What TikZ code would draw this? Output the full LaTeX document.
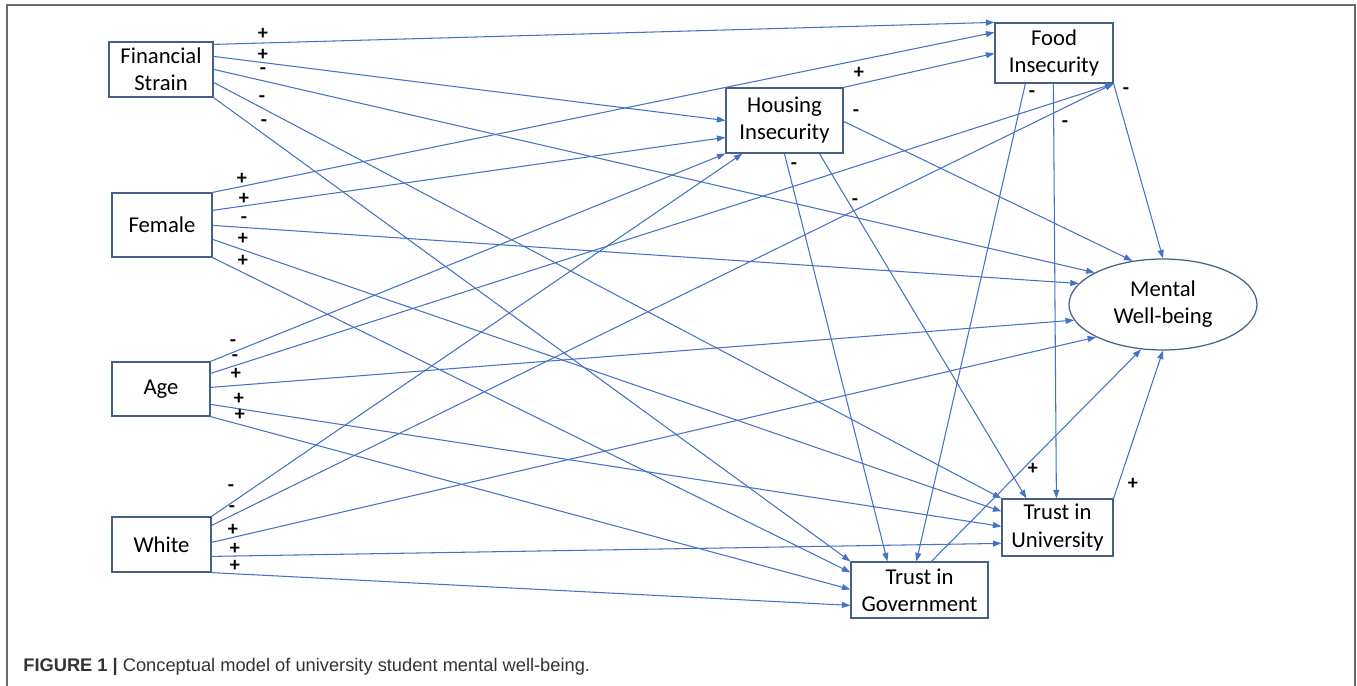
\documentclass[tikz,border=0pt]{standalone}
\usepackage{fontspec}
\setmainfont{Carlito}
\newfontfamily\capfont{Liberation Sans}
\usetikzlibrary{arrows.meta, calc, shapes.geometric}
\definecolor{linkblue}{RGB}{68,114,196}
\definecolor{boxblue}{RGB}{70,95,135}
\definecolor{framegray}{RGB}{105,105,105}
\tikzset{>={Triangle[length=0.17cm,width=0.12cm]}}
\tikzset{
    var/.style={draw=boxblue, line width=0.7pt, align=center, inner sep=0pt,
        font=\fontsize{12.9}{15.4}\selectfont},
    arr/.style={->, draw=linkblue, line width=0.6pt},
    sign/.style={font=\fontsize{11.5}{11.5}\selectfont\bfseries, inner sep=0pt}
}

\begin{document}
\begin{tikzpicture}[x=0.02cm, y=-0.02cm]
    \useasboundingbox (0,0) rectangle (1357,686);
    \draw[framegray, line width=0.85pt] (7,686) -- (7,5) -- (1355,5) -- (1355,686);
    % variables
    \node[var, minimum width=2.08cm, minimum height=1.1cm] (FS) at (161,69.5) {Financial\\Strain};
    \node[var, minimum width=2.0cm, minimum height=1.28cm] (Fem) at (162,225) {Female};
    \node[var, minimum width=1.96cm, minimum height=1.08cm] (Age) at (161,389) {Age};
    \node[var, minimum width=1.98cm, minimum height=1.1cm] (White) at (161.5,544.5) {White};
    \node[var, minimum width=2.34cm, minimum height=1.3cm] (HI) at (784.5,120.5) {Housing\\Insecurity};
    \node[var, minimum width=2.36cm, minimum height=1.2cm] (Food) at (1054,53) {Food\\Insecurity};
    \node[var, ellipse, minimum width=3.76cm, minimum height=1.82cm] (MWB) at (1163,304.5) {Mental\\Well-being};
    \node[var, minimum width=2.22cm, minimum height=1.14cm] (TU) at (1057.5,527.5) {Trust in\\University};
    \node[var, minimum width=2.74cm, minimum height=1.12cm] (TG) at (919.5,590) {Trust in\\Government};
    % financial strain
    \draw[arr] ($(FS.north east)+(0,3)$) -- (Food.north west);
    \draw[arr] ($(FS.north east)+(0,15)$) -- (HI.west);
    \draw[arr] ($(FS.north east)+(0,28)$) -- (MWB.155);
    \draw[arr] ($(FS.north east)+(0,41)$) -- (TU.north west);
    \draw[arr] (FS.south east) -- (TG.north west);
    % female
    \draw[arr] (Fem.north east) -- ($(Food.north west)+(0,10)$);
    \draw[arr] ($(Fem.north east)+(0,18)$) -- ($(HI.north west)+(0,50)$);
    \draw[arr] ($(Fem.north east)+(0,33)$) -- (MWB.166);
    \draw[arr] ($(Fem.north east)+(0,47)$) -- ($(TU.north west)+(0,13)$);
    \draw[arr] (Fem.south east) -- ($(TG.north west)+(0,11)$);
    % age
    \draw[arr] (Age.north east) -- (HI.south west);
    \draw[arr] ($(Age.north east)+(0,12)$) -- (Food.south east);
    \draw[arr] ($(Age.north east)+(0,26)$) -- (MWB.190);
    \draw[arr] ($(Age.north east)+(0,43)$) -- ($(TU.north west)+(0,28)$);
    \draw[arr] (Age.south east) -- ($(TG.north west)+(0,28)$);
    % white
    \draw[arr] (White.north east) -- ($(HI.south west)+(17,0)$);
    \draw[arr] ($(White.north east)+(0,9)$) -- (Food.south east);
    \draw[arr] ($(White.north east)+(0,26)$) -- (MWB.206);
    \draw[arr] ($(White.north east)+(0,40)$) -- ($(TU.north west)+(0,45)$);
    \draw[arr] (White.south east) -- ($(TG.north west)+(0,44)$);
    % mediators
    \draw[arr] (HI.north east) -- ($(Food.north west)+(0,31)$);
    \draw[arr] ($(HI.north east)+(0,34)$) -- (MWB.125);
    \draw[arr] ($(HI.south west)+(59,0)$) -- ($(TG.north west)+(37,0)$);
    \draw[arr] ($(HI.south west)+(94,0)$) -- ($(TU.north west)+(25,0)$);
    \draw[arr] ($(Food.south west)+(31,0)$) -- ($(TG.north west)+(66,0)$);
    \draw[arr] ($(Food.south west)+(59,0)$) -- ($(TU.north west)+(55,0)$);
    \draw[arr] (Food.south east) -- (MWB.north);
    \draw[arr] ($(TG.north west)+(81,0)$) -- (MWB.244);
    \draw[arr] (TU.north east) -- (MWB.south);
    % signs
    \foreach \px/\py/\s [count=\i] in {263/34/+, 263/55/+, 263/71/-, 262/99/-, 264/123/-,
        242/179/+, 244/199/+, 244/220/-, 243/239/+, 243/261/+,
        233/343/-, 235/358/-, 236/374/+, 239/399/+, 240/415/+,
        231/488/-, 232/509/-, 233/530/+, 235/549/+, 235/566/+,
        859/73/+, 856/113/-, 794/166/-, 855/202/-,
        1032/94/-, 1065/124/-, 1126/91/-, 1033/469/+, 1133/484/+}
        \node[sign] (s\i) at (\px,\py) {\s};
    % caption
    \node[anchor=base west, inner sep=0pt, text=black!80, font=\capfont\fontsize{10.4}{12}\selectfont]
        (cap) at (23,671) {\textbf{FIGURE 1 |} Conceptual model of university student mental well-being.};
\end{tikzpicture}
\end{document}
